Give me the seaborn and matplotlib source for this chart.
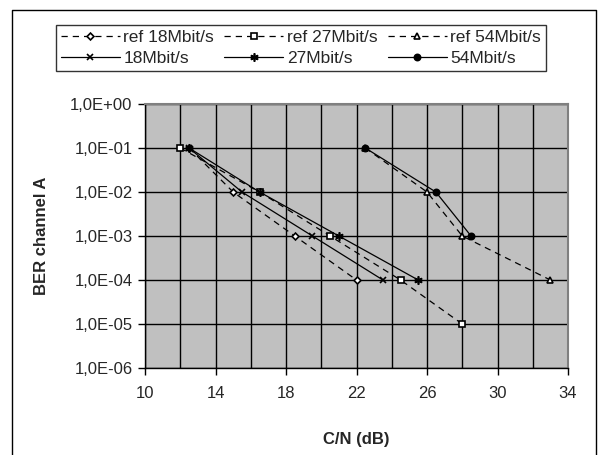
import numpy as np
import pandas as pd
import matplotlib
matplotlib.use("Agg")
import matplotlib.pyplot as plt
import matplotlib.ticker as mticker
from matplotlib.lines import Line2D
import seaborn as sns

# C/N (dB) and BER values per series
ref18_cn = [12.5, 15, 18.5, 22]
ref18_ber = [1e-1, 1e-2, 1e-3, 1e-4]
ref27_cn = [12, 16.5, 20.5, 24.5, 28]
ref27_ber = [1e-1, 1e-2, 1e-3, 1e-4, 1e-5]
ref54_cn = [22.5, 26, 28, 33]
ref54_ber = [1e-1, 1e-2, 1e-3, 1e-4]
m18_cn = [12.5, 15.5, 19.5, 23.5]
m18_ber = [1e-1, 1e-2, 1e-3, 1e-4]
m27_cn = [12.5, 16.5, 21, 25.5]
m27_ber = [1e-1, 1e-2, 1e-3, 1e-4]
m54_cn = [22.5, 26.5, 28.5]
m54_ber = [1e-1, 1e-2, 1e-3]

x_ticks = [10, 14, 18, 22, 26, 30, 34]
y_ticks = [1e-6, 1e-5, 1e-4, 1e-3, 1e-2, 1e-1, 1e0]

sns.set_style("white")
plt.rcParams['font.family'] = ['Liberation Sans', 'DejaVu Sans']

fig = plt.figure(figsize=(5.98, 4.55), dpi=100)
ax = fig.add_axes([145 / 598, 87 / 455, 423 / 598, 264 / 455])
ax.set_facecolor('#c0c0c0')

dash = (0, (5, 4))
series = [
    ("ref 18Mbit/s", ref18_cn, ref18_ber, dash, 'D', 'white', 3.5),
    ("18Mbit/s", m18_cn, m18_ber, '-', 'x', 'black', 5),
    ("ref 27Mbit/s", ref27_cn, ref27_ber, dash, 's', 'white', 4.5),
    ("27Mbit/s", m27_cn, m27_ber, '-', (6, 2, 0), 'black', 6),
    ("ref 54Mbit/s", ref54_cn, ref54_ber, dash, '^', 'white', 4.5),
    ("54Mbit/s", m54_cn, m54_ber, '-', 'o', 'black', 4.5),
]

handles = []
for name, xs, ys, ls, mk, mfc, ms in series:
    df = pd.DataFrame({"cn": xs, "ber": ys})
    sns.lineplot(data=df, x="cn", y="ber", ax=ax, color='black', linewidth=0.9,
                 linestyle=ls, marker=mk, markerfacecolor=mfc, markeredgecolor='black',
                 markeredgewidth=1.2, markersize=ms, sort=False, legend=False)
    handles.append(Line2D([], [], color='black', linewidth=0.9, linestyle=ls, marker=mk,
                          markerfacecolor=mfc, markeredgecolor='black',
                          markeredgewidth=1.2, markersize=ms, label=name))

ax.set_yscale('log')
ax.set_xlim(10, 34)
ax.set_ylim(1e-6, 1)
ax.set_xticks(x_ticks)
ax.xaxis.set_minor_locator(mticker.MultipleLocator(2))
ax.yaxis.set_major_locator(mticker.FixedLocator(y_ticks))
ax.yaxis.set_minor_locator(mticker.NullLocator())


def fmt(v, pos):
    e = int(round(np.log10(v)))
    sign = '+' if e >= 0 else '-'
    return f"1,0E{sign}{abs(e):02d}"


ax.yaxis.set_major_formatter(mticker.FuncFormatter(fmt))
ax.grid(True, which='both', axis='x', color='black', linewidth=1)
ax.grid(True, which='major', axis='y', color='black', linewidth=1)
ax.set_axisbelow(True)
ax.tick_params(axis='both', which='major', direction='out', length=5, width=1,
               color='black', labelsize=12, left=True, bottom=True, pad=4)
ax.tick_params(axis='x', which='major', pad=8)
ax.tick_params(axis='x', which='minor', length=0)
for s in ax.spines.values():
    s.set_color('#808080')
    s.set_linewidth(1.5)
ax.spines['left'].set_color('black')
ax.spines['left'].set_linewidth(1)
ax.spines['bottom'].set_color('black')
ax.spines['bottom'].set_linewidth(1)

ax.set_xlabel("C/N (dB)", fontsize=12, fontweight='bold', labelpad=22)
ax.set_ylabel("BER channel A", fontsize=12, fontweight='bold', labelpad=15)

leg = fig.legend(handles=handles, ncol=3, loc='center', bbox_to_anchor=(301 / 598, 407 / 455),
                 frameon=True, fancybox=False, edgecolor='black', fontsize=12.5,
                 handlelength=3.4, handletextpad=0.2, columnspacing=0.6,
                 borderpad=0.3, labelspacing=0.35, borderaxespad=0)
leg.get_frame().set_linewidth(1)

# outer chart frame
fx0, fx1, fy1 = 12 / 598, 596 / 598, 445 / 455
fig.add_artist(Line2D([fx0, fx0, fx1, fx1], [0, fy1, fy1, 0], transform=fig.transFigure,
                      color='black', linewidth=1))

fig.savefig("out.png", dpi=100)
